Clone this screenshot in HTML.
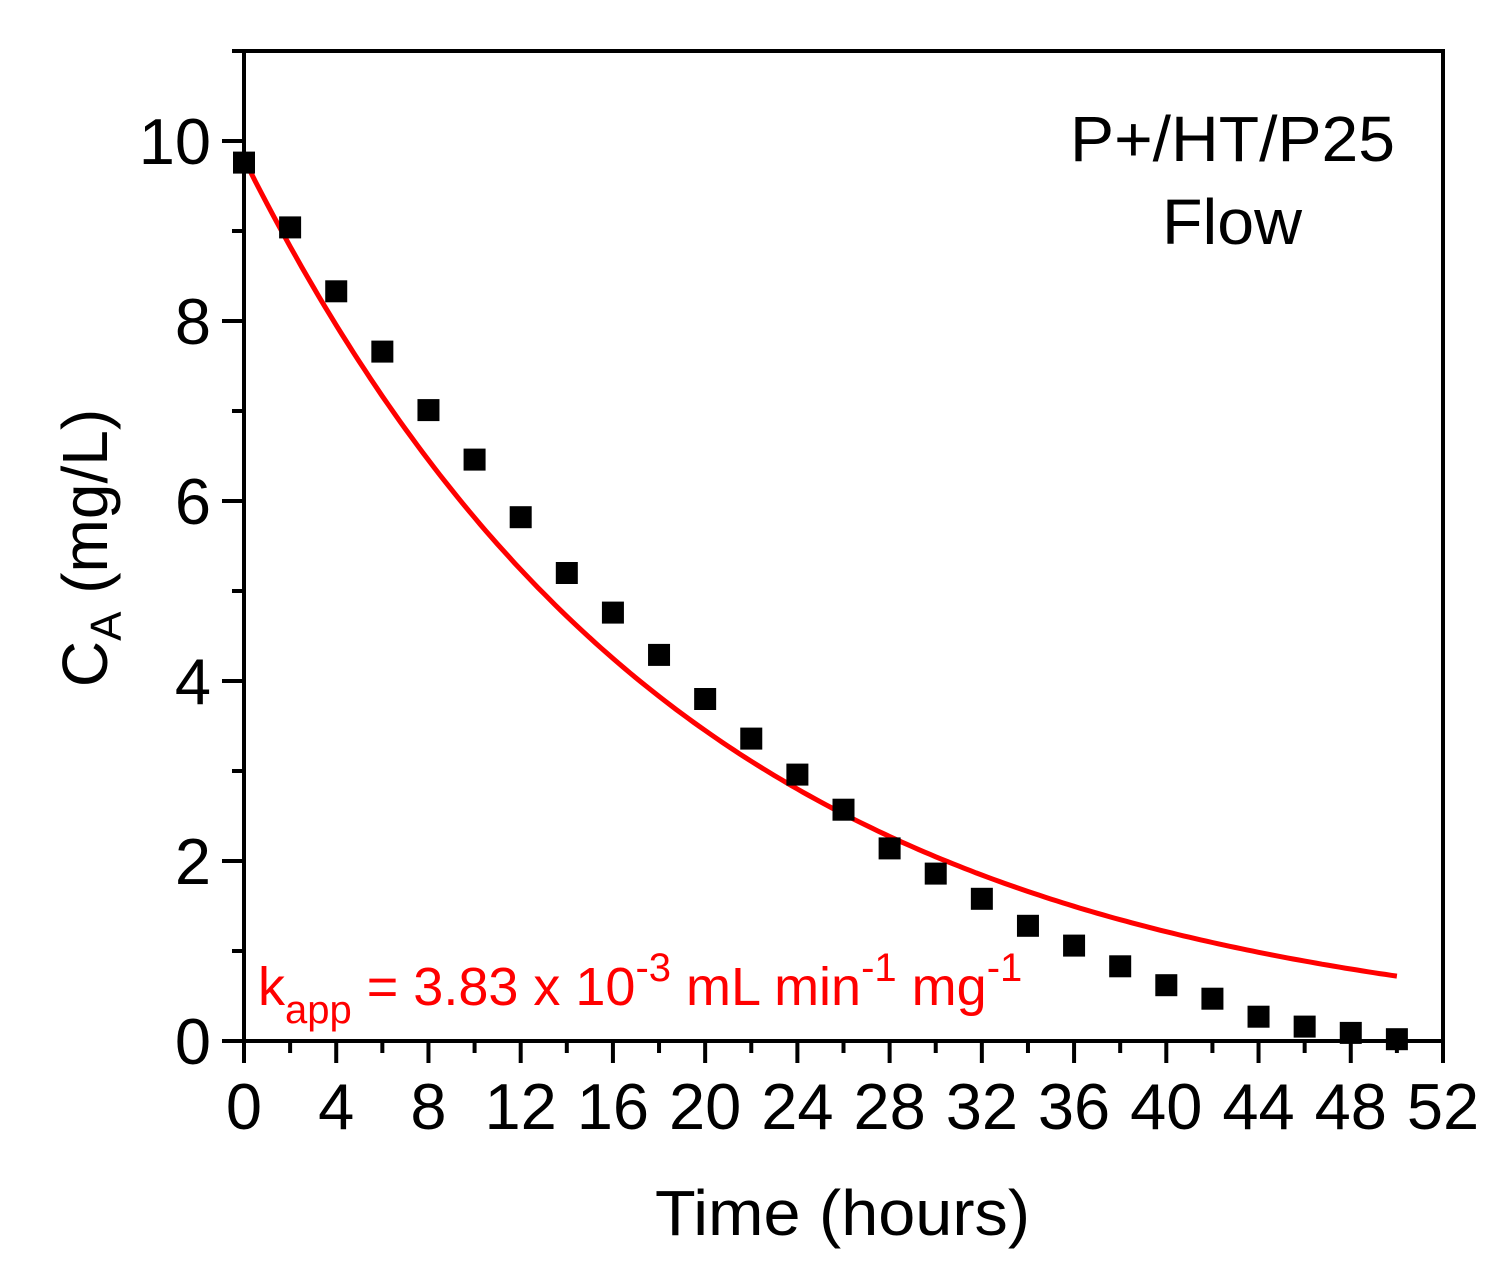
<!DOCTYPE html>
<html><head><meta charset="utf-8"><style>
html,body{margin:0;padding:0;background:#fff;}
svg{display:block;font-family:"Liberation Sans",Arial,sans-serif;}
</style></head><body>
<svg id="chart" width="1511" height="1261" viewBox="0 0 1511 1261" xmlns="http://www.w3.org/2000/svg">
<g id="marks"></g>
<g id="axes"></g>
<g id="labels"></g>
</svg>
<script>
const times = [0,2,4,6,8,10,12,14,16,18,20,22,24,26,28,30,32,34,36,38,40,42,44,46,48,50];
const concentrations = [9.76,9.04,8.33,7.66,7.01,6.46,5.82,5.2,4.76,4.29,3.8,3.36,2.96,2.57,2.14,1.86,1.58,1.28,1.06,0.83,0.62,0.47,0.27,0.16,0.09,0.02];
const fitParams = [9.8, 0.0522]; // C0, k (per hour)
const fitRange = [0, 50];
const xTicks = [0,4,8,12,16,20,24,28,32,36,40,44,48,52];
const yTicks = [0,2,4,6,8,10];
const xDomain = [0,52], yDomain = [0,11];

const L=244, R=1443, T=51, B=1041;
const sx = v => L + (v - xDomain[0])/(xDomain[1]-xDomain[0])*(R-L);
const sy = v => B - (v - yDomain[0])/(yDomain[1]-yDomain[0])*(B-T);
const NS="http://www.w3.org/2000/svg";
function mk(tag, attrs, parent){const e=document.createElementNS(NS,tag);for(const k in attrs)e.setAttribute(k,attrs[k]);parent.appendChild(e);return e;}
const marks=document.getElementById('marks'), axes=document.getElementById('axes'), labels=document.getElementById('labels');

let d='';
for(let i=0;i<=200;i++){const t=fitRange[0]+(fitRange[1]-fitRange[0])*i/200;const c=fitParams[0]*Math.exp(-fitParams[1]*t);d+=(i?'L':'M')+sx(t).toFixed(1)+' '+sy(c).toFixed(1);}
const fit=mk('path',{d:d,fill:'none',stroke:'#ff0000','stroke-width':5},marks);



times.forEach((t,i)=>{
  const r=mk('rect',{x:sx(t)-11,y:sy(concentrations[i])-11,width:22,height:22,fill:'#000'},marks);
  
  
});

const frame=mk('rect',{x:L,y:T,width:R-L,height:B-T,fill:'none',stroke:'#000','stroke-width':4},axes);



function txt(s,x,y,size,anchor,parent){
  const e=mk('text',{x:x,y:y,'font-size':size,'text-anchor':anchor,fill:'#000'},parent);
  e.textContent=s;return e;
}
for(let v=0;v<=52;v+=2){
  const major=v%4===0;
  const ln=mk('line',{x1:sx(v),x2:sx(v),y1:B,y2:B+(major?22:12),stroke:'#000','stroke-width':4},axes);
  
  
}
xTicks.forEach(v=>{
  const e=txt(String(v),sx(v),1129,65,'middle',labels);
  
  
});
for(let v=0;v<=11;v+=1){
  const major=v%2===0;
  const ln=mk('line',{x1:L,x2:L-(major?22:12),y1:sy(v),y2:sy(v),stroke:'#000','stroke-width':4},axes);
  
  
}
yTicks.forEach(v=>{
  const e=txt(String(v),211,sy(v)+23,65,'end',labels);
  
  
});
</script>
<svg style="position:absolute;left:0;top:0" width="1511" height="1261" xmlns="http://www.w3.org/2000/svg" font-family="Liberation Sans, Arial, sans-serif">
<text x="655" y="1235" font-size="64" textLength="375" lengthAdjust="spacingAndGlyphs">Time (hours)</text>
<g transform="translate(107,548) rotate(-90)">
<text font-size="64" text-anchor="middle">C<tspan font-size="44" dy="14">A</tspan><tspan dy="-14"> (mg/L)</tspan></text>
</g>
<text x="1070" y="161" font-size="64" textLength="325" lengthAdjust="spacingAndGlyphs">P+/HT/P25</text>
<text x="1162" y="244" font-size="64" textLength="140" lengthAdjust="spacingAndGlyphs">Flow</text>
<text x="258" y="1005" font-size="54" fill="#ff0000">k<tspan font-size="40" dy="18">app</tspan><tspan dy="-18"> = 3.83 x 10</tspan><tspan font-size="40" dy="-24">-3</tspan><tspan dy="24"> mL min</tspan><tspan font-size="40" dy="-24">-1</tspan><tspan dy="24"> mg</tspan><tspan font-size="40" dy="-24">-1</tspan></text>
</svg>
</body></html>
